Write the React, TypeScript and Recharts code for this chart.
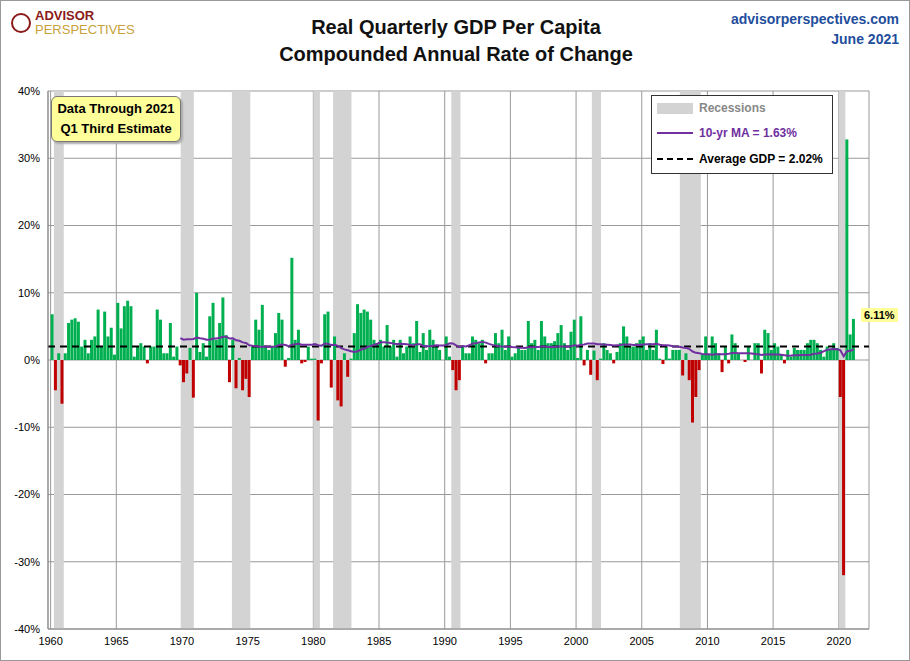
import React from "react";
import {
  ComposedChart,
  Bar,
  Line,
  Cell,
  XAxis,
  YAxis,
  CartesianGrid,
  ReferenceArea,
  ReferenceLine,
} from "recharts";

// quarterly per-capita growth, % annualised, 1960 Q1 .. 2021 Q1
const growth: number[] = [
  6.8, -4.5, 1.0, -6.5, 1.0, 5.5, 6.0, 6.2, 5.7, 2.0, 3.0, 1.0,
  3.0, 3.5, 7.5, 2.0, 7.2, 3.5, 4.8, 0.8, 8.5, 4.7, 8.0, 8.8,
  8.0, 0.5, 2.0, 2.5, 2.0, -0.5, 2.0, 2.0, 7.5, 6.0, 1.0, 1.0,
  5.5, 0.5, 2.0, -0.8, -3.3, -2.0, 1.8, -5.6, 10.0, 1.2, 2.5, 0.5,
  6.5, 8.5, 3.0, 5.5, 9.3, 3.7, -3.3, 3.0, -4.2, 0.3, -4.5, -2.8,
  -5.5, 2.0, 6.0, 4.5, 8.2, 2.0, 1.5, 2.0, 4.0, 7.0, 6.0, -1.0,
  0.3, 15.2, 3.0, 4.5, -0.5, -0.3, 2.0, 0.2, 0.2, -9.0, -0.5, 6.8,
  7.2, -4.1, 3.5, -6.0, -6.9, 1.0, -2.5, 0.2, 4.0, 8.3, 7.0, 7.5,
  7.2, 6.0, 3.0, 2.5, 3.0, 2.0, 5.2, 2.0, 3.0, 0.5, 3.0, 1.0,
  2.0, 3.5, 2.5, 5.8, 1.2, 4.0, 1.5, 4.5, 3.0, 2.0, 1.5, 0.0,
  3.5, 0.5, -1.5, -4.5, -3.0, 2.0, 1.0, 1.0, 3.5, 3.0, 2.5, 3.0,
  -0.5, 1.0, 1.0, 4.0, 2.5, 4.5, 1.5, 3.5, 0.5, 1.0, 2.0, 1.5,
  1.5, 5.8, 2.5, 3.0, 1.5, 5.8, 3.5, 2.5, 2.5, 2.8, 4.0, 5.2,
  2.5, 1.5, 4.2, 6.0, 0.3, 6.5, -0.8, 1.5, -2.2, 1.4, -3.0, 0.2,
  2.5, 1.5, 1.0, -0.5, 1.2, 2.5, 5.0, 3.5, 2.0, 2.0, 2.5, 3.0,
  3.5, 1.5, 2.5, 1.5, 4.5, 0.2, -0.6, 2.0, 0.2, 1.5, 1.5, 1.5,
  -2.3, 1.0, -3.0, -9.3, -5.5, -1.5, 0.8, 3.5, 0.8, 3.5, 2.5, 1.0,
  -1.8, 2.0, -0.5, 3.8, 2.5, 1.0, 0.0, -0.3, 2.0, 0.0, 2.5, 2.5,
  -2.0, 4.5, 4.0, 1.5, 2.5, 2.0, 0.8, -0.5, 1.5, 0.5, 1.8, 1.5,
  1.5, 1.5, 2.5, 3.0, 3.0, 2.5, 1.5, 0.5, 2.0, 1.5, 2.5, 1.8,
  -5.5, -32.0, 32.8, 3.8, 6.11,
];

const recessions: [number, number][] = [
  [1960.25, 1961.0], [1969.9, 1970.9], [1973.8, 1975.2], [1980.0, 1980.5],
  [1981.5, 1982.9], [1990.5, 1991.2], [2001.2, 2001.9], [2007.9, 2009.5],
  [2020.0, 2020.5],
];

const xTicks = [1960, 1965, 1970, 1975, 1980, 1985, 1990, 1995, 2000, 2005, 2010, 2015, 2020];
const yTicks = [-40, -30, -20, -10, 0, 10, 20, 30, 40];
const AVG = 2.02;

// 10-year (40 quarter) trailing average of the bars
const data = growth.map((v, i) => {
  let ma: number | null = null;
  if (i >= 39) {
    let s = 0;
    for (let k = i - 39; k <= i; k++) s += growth[k];
    ma = s / 40;
  }
  return { x: 1960 + i * 0.25 + 0.125, v, ma };
});

const font = "Arial, 'Liberation Sans', sans-serif";

export default function App() {
  return (
    <div style={{ position: "absolute", left: 0, top: 0, width: 910, height: 661, background: "#fff", fontFamily: font, boxSizing: "border-box", border: "1px solid #999" }}>
      <div style={{ position: "absolute", left: 10, top: 8, display: "flex", alignItems: "center" }}>
        <div style={{ width: 20, height: 20, borderRadius: 10, border: "2px solid #8b1a1a", boxSizing: "border-box", marginRight: 4 }} />
        <div>
          <div style={{ color: "#8b1a1a", fontWeight: "bold", fontSize: 13, lineHeight: "14px" }}>ADVISOR</div>
          <div style={{ color: "#c7a23a", fontSize: 13, lineHeight: "14px" }}>PERSPECTIVES</div>
        </div>
      </div>
      <div style={{ position: "absolute", left: 0, width: 910, top: 13, textAlign: "center", fontSize: 20, fontWeight: "bold", color: "#111", lineHeight: "27px" }}>
        Real Quarterly GDP Per Capita<br />Compounded Annual Rate of Change
      </div>
      <div style={{ position: "absolute", right: 10, top: 8, textAlign: "right", color: "#1f4e9c", fontWeight: "bold", fontSize: 14, lineHeight: "20px" }}>
        advisorperspectives.com<br />June 2021
      </div>
      <ComposedChart
        width={910}
        height={661}
        data={data}
        margin={{ top: 90, right: 42, bottom: 3, left: 0 }}
      >
        <CartesianGrid stroke="#999" />
        {recessions.map(([a, b]) => (
          <ReferenceArea key={a} x1={a} x2={b} y1={-40} y2={40} fill="#d3d3d3" fillOpacity={1} stroke="none" ifOverflow="hidden" />
        ))}
        <XAxis
          dataKey="x"
          type="number"
          domain={[1959.8, 2022.3]}
          ticks={xTicks}
          tick={{ fontSize: 11, fill: "#000" }}
          tickLine={false}
          axisLine={{ stroke: "#888" }}
          height={30}
        />
        <YAxis
          domain={[-40, 40]}
          ticks={yTicks}
          tickFormatter={(v) => `${v}%`}
          tick={{ fontSize: 11, fill: "#000" }}
          tickLine={false}
          axisLine={{ stroke: "#888" }}
          width={47}
        />
        <Bar dataKey="v" barSize={3} isAnimationActive={false}>
          {data.map((d, i) => (
            <Cell key={i} fill={d.v >= 0 ? "#00b050" : "#c00000"} />
          ))}
        </Bar>
        <ReferenceLine y={AVG} stroke="#000" strokeWidth={2} strokeDasharray="7 5" />
        <Line dataKey="ma" stroke="#7030a0" strokeWidth={2} dot={false} isAnimationActive={false} connectNulls={false} />
      </ComposedChart>
      <div style={{ position: "absolute", left: 50, top: 95, width: 130, height: 46, background: "#ffff99", border: "1px solid #777", borderRadius: 6, boxShadow: "2px 2px 2px #aaa", fontSize: 13, fontWeight: "bold", textAlign: "center", lineHeight: "20px", paddingTop: 2, boxSizing: "border-box" }}>
        Data Through 2021<br />Q1 Third Estimate
      </div>
      <div style={{ position: "absolute", left: 650, top: 94, width: 182, height: 79, background: "#fff", border: "1px solid #333", fontSize: 12, fontWeight: "bold", boxSizing: "border-box", whiteSpace: "nowrap" }}>
        <div style={{ position: "absolute", left: 5, top: 5, display: "flex", alignItems: "center" }}>
          <div style={{ width: 36, height: 11, background: "#d3d3d3", marginRight: 6 }} />
          <span style={{ color: "#888" }}>Recessions</span>
        </div>
        <div style={{ position: "absolute", left: 5, top: 30, display: "flex", alignItems: "center" }}>
          <div style={{ width: 36, height: 2, background: "#7030a0", marginRight: 6 }} />
          <span style={{ color: "#7030a0" }}>10-yr MA = 1.63%</span>
        </div>
        <div style={{ position: "absolute", left: 5, top: 56, display: "flex", alignItems: "center" }}>
          <div style={{ width: 36, height: 0, borderTop: "2px dashed #000", marginRight: 6 }} />
          <span style={{ color: "#000" }}>Average GDP = 2.02%</span>
        </div>
      </div>
      <div style={{ position: "absolute", left: 860, top: 307, background: "#ffff99", fontSize: 11, fontWeight: "bold", padding: "1px 3px" }}>
        6.11%
      </div>
    </div>
  );
}
